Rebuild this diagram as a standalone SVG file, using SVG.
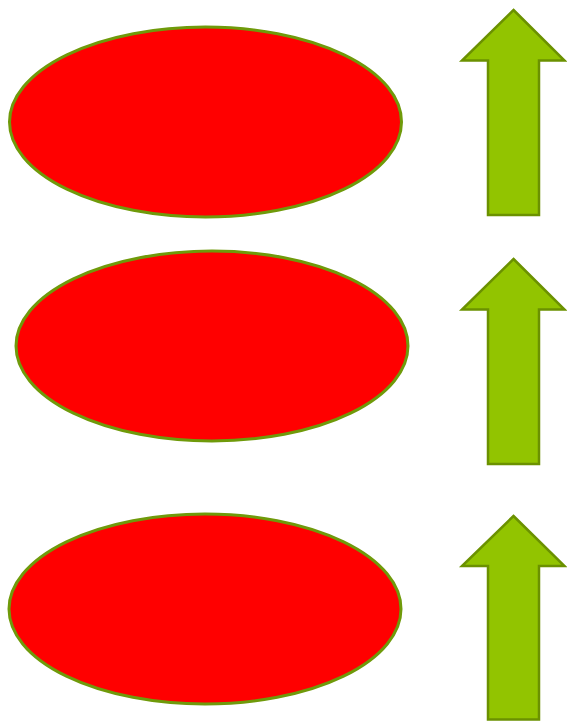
<svg xmlns="http://www.w3.org/2000/svg" width="567" height="722" viewBox="0 0 567 722">
<style>
.ell{fill:#ff0000;stroke:#6f9a0a;stroke-width:3}
.arr{fill:#92c400;stroke:#6b9100;stroke-width:2.5;stroke-linejoin:miter}
</style>
<defs>
<path id="arrow" d="M513.5,10 L564.5,60.5 L539,60.5 L539,215 L488,215 L488,60.5 L462,60.5 Z"/>
</defs>
<rect width="567" height="722" fill="#ffffff"/>
<g id="ellipse1"><ellipse class="ell" cx="205.5" cy="122" rx="196" ry="95"/></g>
<g id="ellipse2"><ellipse class="ell" cx="212" cy="346" rx="196" ry="95"/></g>
<g id="ellipse3"><ellipse class="ell" cx="205" cy="609" rx="196" ry="95"/></g>
<g id="arrow1"><use href="#arrow" class="arr"/></g>
<g id="arrow2"><path class="arr" d="M513.5,259 L564.5,309.5 L539,309.5 L539,464 L488,464 L488,309.5 L462,309.5 Z"/></g>
<g id="arrow3"><path class="arr" d="M513.5,516 L564.5,566 L539,566 L539,719.5 L488,719.5 L488,566 L462,566 Z"/></g>
<g id="connectors"></g>
</svg>
